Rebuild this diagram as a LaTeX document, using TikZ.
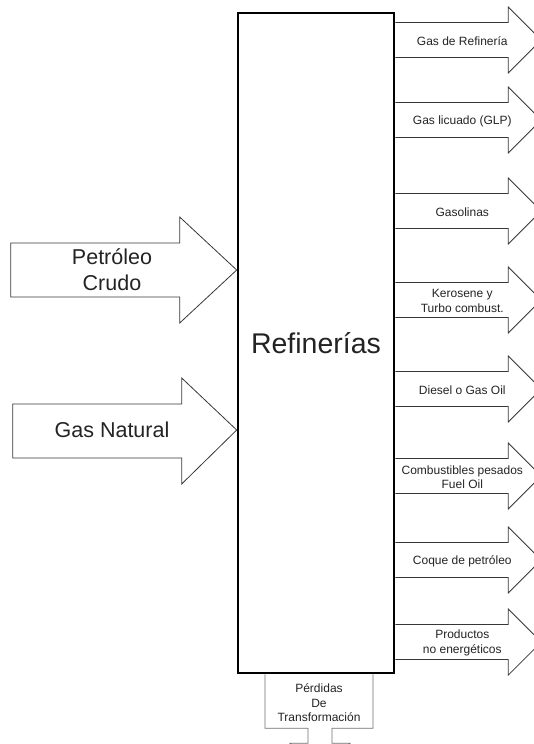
\documentclass[tikz,border=0pt]{standalone}
\usepackage{fontspec}
\setmainfont{Liberation Sans}
\definecolor{flowgrey}{RGB}{55, 55, 55}
\definecolor{lossgrey}{RGB}{110, 110, 110}
\definecolor{textgrey}{RGB}{35, 35, 35}
\tikzstyle{plant} = [
  draw=black,
  line width=2.6pt,
  inner sep=0pt,
  text=textgrey,
  font=\fontsize{28.5}{32}\selectfont,
]
\tikzstyle{flow} = [
  draw=flowgrey,
  line width=0.8pt,
  line join=miter,
]
\tikzstyle{loss} = [
  draw=lossgrey,
  line width=0.8pt,
]
\tikzstyle{feed label} = [
  font=\fontsize{21.5}{26}\selectfont,
  text=textgrey,
  align=center,
  inner sep=0pt,
]
\tikzstyle{product label} = [
  font=\fontsize{12}{14.5}\selectfont,
  text=textgrey,
  align=center,
  inner sep=0pt,
]

\begin{document}
\begin{tikzpicture}[x=1pt, y=-1pt]
            \useasboundingbox (0,0) rectangle (534,744);
            \clip (0,0) rectangle (534,744);
            \def\shaft{17.5}
            \def\head{33}

            % Refinery
            \node[plant, minimum width=156pt, minimum height=660pt] (refinery) at (316,343) {Refinerías};

            % Feeds
            \coordinate (crude) at (refinery.west |- 0,270);
            \coordinate (natgas) at (refinery.west |- 0,430);
            \draw[flow] (crude) -- ++(-57,-53) -- ++(0,26) -- ++(-169,0)
              -- ++(0,54) -- ++(169,0) -- ++(0,26) -- cycle;
            \draw[flow] (natgas) -- ++(-55,-52) -- ++(0,26) -- ++(-169,0)
              -- ++(0,54) -- ++(169,0) -- ++(0,26) -- cycle;
            \node[feed label] (crude label) at (112,270) {Petróleo\\Crudo};
            \node[feed label] (natgas label) at (112,430) {Gas Natural};

            % Products
            \foreach \y/\txt [count=\i] in {
                40/{Gas de Refinería},
                120/{Gas licuado (GLP)},
                211/{Gasolinas},
                300/{Kerosene y\\Turbo combust.},
                389/{Diesel o Gas Oil},
                476/{Combustibles pesados\\Fuel Oil},
                560/{Coque de petróleo},
                642/{Productos\\no energéticos}} {
              \draw[flow] (refinery.east |- 0,\y) ++(0,-\shaft) -- ++(113,0)
                -- ++(0,\shaft-\head) -- ++(\head,\head) -- ++(-\head,\head)
                -- ++(0,\shaft-\head) -- ++(-113,0);
              \path (refinery.east |- 0,\y) ++(67,1) node[product label] (product\i) {\txt};
            }

            % Losses
            \draw[loss] (refinery.south) ++(-51,0) -- ++(0,54) -- ++(43,0)
              -- ++(0,15) -- ++(-18,0) -- ++(30,30) -- ++(30,-30)
              -- ++(-18,0) -- ++(0,-15) -- ++(41,0) -- ++(0,-54);
            \node[product label] (losses) at (319,703) {Pérdidas\\De\\Transformación};
          \end{tikzpicture}
\end{document}
